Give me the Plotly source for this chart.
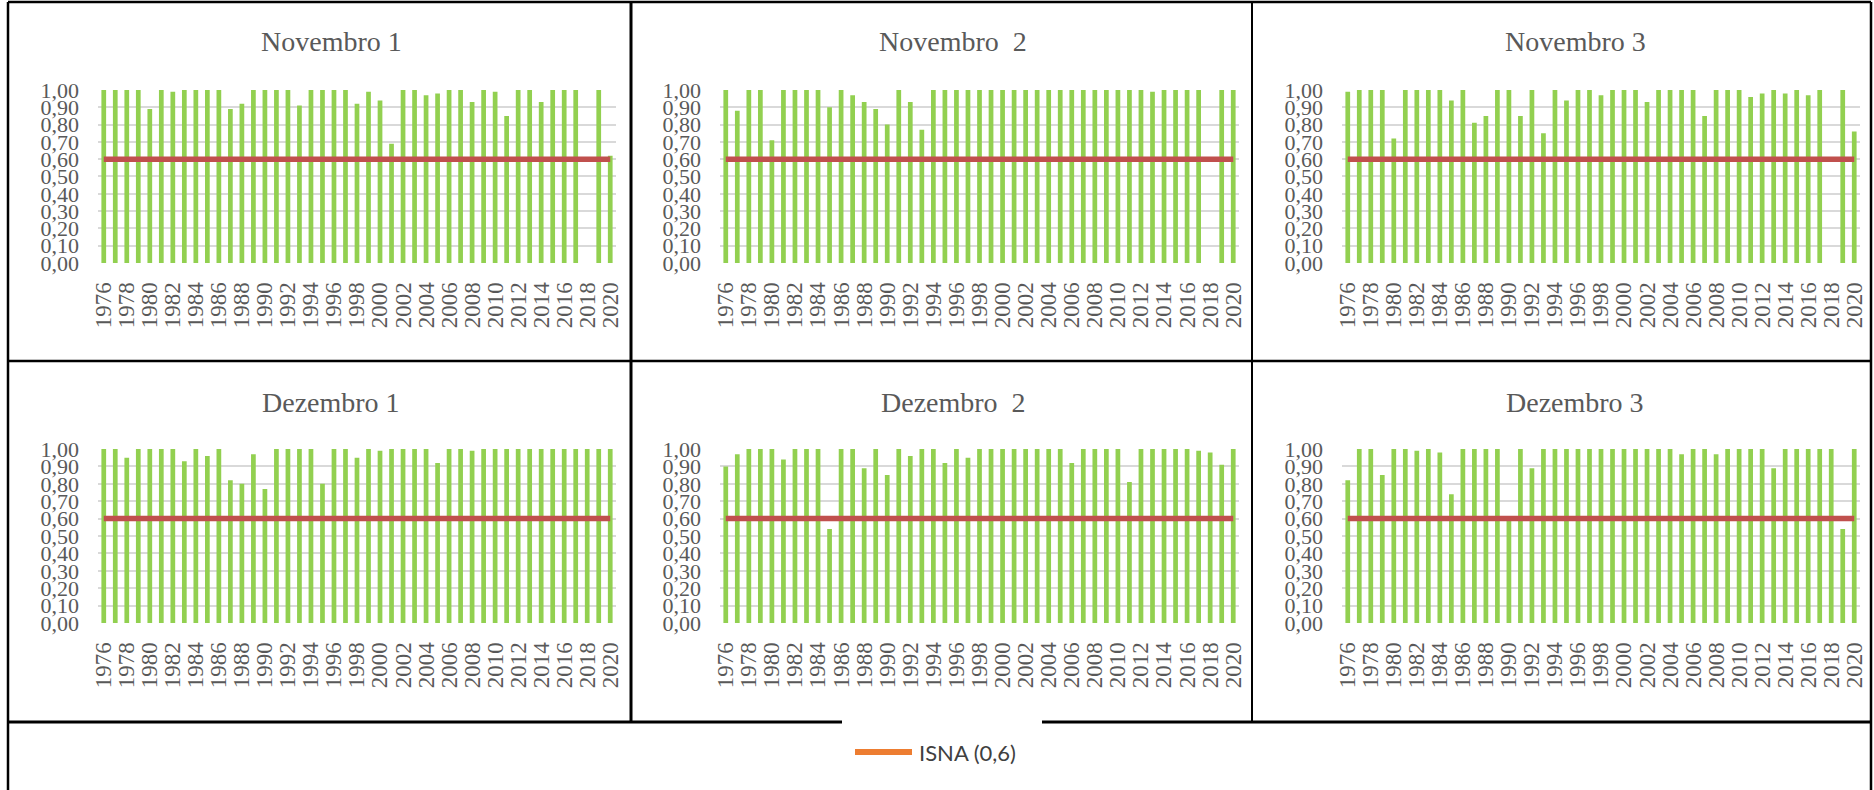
import plotly.graph_objects as go

W, H = 1874, 790

# ---- data -------------------------------------------------------------
years = list(range(1976, 2021))
year_ticks = years[::2]
year_tick_text = [str(y) for y in year_ticks]

y_ticks = [0.0, 0.1, 0.2, 0.3, 0.4, 0.5, 0.6, 0.7, 0.8, 0.9, 1.0]
y_tick_text = ["0,00", "0,10", "0,20", "0,30", "0,40", "0,50",
               "0,60", "0,70", "0,80", "0,90", "1,00"]

isna_limit = 0.6
isna_label = "ISNA (0,6)"

titles = ["Novembro 1", "Novembro \u00a02", "Novembro 3",
          "Dezembro 1", "Dezembro \u00a02", "Dezembro 3"]

nov_1 = [1.00, 1.00, 1.00, 1.00, 0.89, 1.00, 0.99, 1.00, 1.00, 1.00,
         1.00, 0.89, 0.92, 1.00, 1.00, 1.00, 1.00, 0.91, 1.00, 1.00,
         1.00, 1.00, 0.92, 0.99, 0.94, 0.69, 1.00, 1.00, 0.97, 0.98,
         1.00, 1.00, 0.93, 1.00, 0.99, 0.85, 1.00, 1.00, 0.93, 1.00,
         1.00, 1.00, None, 1.00, 0.62]
nov_2 = [1.00, 0.88, 1.00, 1.00, 0.71, 1.00, 1.00, 1.00, 1.00, 0.90,
         1.00, 0.97, 0.93, 0.89, 0.80, 1.00, 0.93, 0.77, 1.00, 1.00,
         1.00, 1.00, 1.00, 1.00, 1.00, 1.00, 1.00, 1.00, 1.00, 1.00,
         1.00, 1.00, 1.00, 1.00, 1.00, 1.00, 1.00, 0.99, 1.00, 1.00,
         1.00, 1.00, None, 1.00, 1.00]
nov_3 = [0.99, 1.00, 1.00, 1.00, 0.72, 1.00, 1.00, 1.00, 1.00, 0.94,
         1.00, 0.81, 0.85, 1.00, 1.00, 0.85, 1.00, 0.75, 1.00, 0.94,
         1.00, 1.00, 0.97, 1.00, 1.00, 1.00, 0.93, 1.00, 1.00, 1.00,
         1.00, 0.85, 1.00, 1.00, 1.00, 0.96, 0.98, 1.00, 0.98, 1.00,
         0.97, 1.00, None, 1.00, 0.76]
dez_1 = [1.00, 1.00, 0.95, 1.00, 1.00, 1.00, 1.00, 0.93, 1.00, 0.96,
         1.00, 0.82, 0.80, 0.97, 0.77, 1.00, 1.00, 1.00, 1.00, 0.80,
         1.00, 1.00, 0.95, 1.00, 0.99, 1.00, 1.00, 1.00, 1.00, 0.92,
         1.00, 1.00, 0.99, 1.00, 1.00, 1.00, 1.00, 1.00, 1.00, 1.00,
         1.00, 1.00, 1.00, 1.00, 1.00]
dez_2 = [0.90, 0.97, 1.00, 1.00, 1.00, 0.94, 1.00, 1.00, 1.00, 0.54,
         1.00, 1.00, 0.89, 1.00, 0.85, 1.00, 0.96, 1.00, 1.00, 0.92,
         1.00, 0.95, 1.00, 1.00, 1.00, 1.00, 1.00, 1.00, 1.00, 1.00,
         0.92, 1.00, 1.00, 1.00, 1.00, 0.81, 1.00, 1.00, 1.00, 1.00,
         1.00, 0.99, 0.98, 0.91, 1.00]
dez_3 = [0.82, 1.00, 1.00, 0.85, 1.00, 1.00, 0.99, 1.00, 0.98, 0.74,
         1.00, 1.00, 1.00, 1.00, 0.59, 1.00, 0.89, 1.00, 1.00, 1.00,
         1.00, 1.00, 1.00, 1.00, 1.00, 1.00, 1.00, 1.00, 1.00, 0.97,
         1.00, 1.00, 0.97, 1.00, 1.00, 1.00, 1.00, 0.89, 1.00, 1.00,
         1.00, 1.00, 1.00, 0.54, 1.00]

series = [nov_1, nov_2, nov_3, dez_1, dez_2, dez_3]

# ---- styling ------------------------------------------------------------
BAR_GREEN = "#92D050"
LINE_RED = "#C0504D"
LEGEND_ORANGE = "#ED7D31"
GRID = "#D9D9D9"
TEXT_GREY = "#595959"
SERIF = "Liberation Serif, Times New Roman, serif"

# plot-area pixel boxes (left, right) per column and (top=1.0, bottom=0.0) per row
col_px = [(98, 616), (720, 1239), (1342, 1860)]
row_px = [(90, 263), (449, 623)]
title_x = [331, 953, 1575]
title_y = [41, 402]

def fx(px):
    return px / W

def fy(px):
    return 1 - px / H

Y_LO, Y_HI = -0.004, 1.004

fig = go.Figure()
layout_axes = {}

for i, vals in enumerate(series):
    r, c = divmod(i, 3)
    n = i + 1
    xa = "x" if n == 1 else f"x{n}"
    ya = "y" if n == 1 else f"y{n}"

    fig.add_trace(go.Bar(
        x=years, y=vals, xaxis=xa, yaxis=ya,
        marker=dict(color=BAR_GREEN, line=dict(width=0)),
        width=0.41, showlegend=False, hoverinfo="x+y",
    ))
    fig.add_trace(go.Scatter(
        x=years, y=[isna_limit] * len(years), xaxis=xa, yaxis=ya,
        mode="lines", line=dict(color=LINE_RED, width=5.5),
        showlegend=False, name=isna_label,
    ))

    l, rr = col_px[c]
    top, bot = row_px[r]
    unit = (bot - top)  # px per 1.0
    dom_top = top - (Y_HI - 1.0) * unit
    dom_bot = bot + (0 - Y_LO) * unit

    xkey = "xaxis" if n == 1 else f"xaxis{n}"
    ykey = "yaxis" if n == 1 else f"yaxis{n}"
    layout_axes[xkey] = dict(
        domain=[fx(l), fx(rr)], anchor=ya, range=[1975.5, 2020.5],
        tickmode="array", tickvals=year_ticks, ticktext=year_tick_text,
        tickangle=-90, ticks="", showgrid=False, zeroline=False,
        showline=False, ticklabelstandoff=13, automargin=False,
        tickfont=dict(family=SERIF, size=23, color=TEXT_GREY),
        fixedrange=True,
    )
    layout_axes[ykey] = dict(
        domain=[fy(dom_bot), fy(dom_top)], anchor=xa, range=[Y_LO, Y_HI],
        tickmode="array", tickvals=y_ticks, ticktext=y_tick_text,
        showgrid=True, gridcolor=GRID, gridwidth=1.8, zeroline=False,
        showline=False, ticks="", ticklabelstandoff=18, automargin=False,
        tickfont=dict(family=SERIF, size=22, color=TEXT_GREY),
        fixedrange=True,
    )

annotations = []
for i, t in enumerate(titles):
    r, c = divmod(i, 3)
    annotations.append(dict(
        text=t, x=fx(title_x[c]), y=fy(title_y[r]), xref="paper", yref="paper",
        xanchor="center", yanchor="middle", showarrow=False,
        font=dict(family=SERIF, size=28, color=TEXT_GREY),
    ))

# legend entry
annotations.append(dict(
    text=isna_label, x=fx(917), y=fy(752), xref="paper", yref="paper",
    xanchor="left", yanchor="middle", showarrow=False,
    font=dict(family="Lato, Open Sans, sans-serif", size=22, color="#404040"),
))

shapes = []
def hline(y, x0, x1, w=2.5, color="black"):
    shapes.append(dict(type="line", xref="paper", yref="paper",
                       x0=fx(x0), x1=fx(x1), y0=fy(y), y1=fy(y),
                       line=dict(color=color, width=w), layer="above"))

def vline(x, y0, y1, w=2.5, color="black"):
    shapes.append(dict(type="line", xref="paper", yref="paper",
                       x0=fx(x), x1=fx(x), y0=fy(y0), y1=fy(y1),
                       line=dict(color=color, width=w), layer="above"))

# table frame
hline(2, 8, 1871)
hline(361, 8, 1871)
hline(722, 8, 1871, w=3)
vline(8, 2, 790)
vline(1871, 2, 790)
vline(631, 2, 722, w=3)
vline(1252, 2, 722, w=2)

# legend box knocks out the frame line
shapes.append(dict(type="rect", xref="paper", yref="paper",
                   x0=fx(842), x1=fx(1042), y0=fy(725), y1=fy(719),
                   fillcolor="white", line=dict(width=0), layer="above"))
# legend line sample
shapes.append(dict(type="line", xref="paper", yref="paper",
                   x0=fx(855), x1=fx(912), y0=fy(752), y1=fy(752),
                   line=dict(color=LEGEND_ORANGE, width=6), layer="above"))

fig.update_layout(
    width=W, height=H, margin=dict(l=0, r=0, t=0, b=0, pad=0, autoexpand=False),
    paper_bgcolor="white", plot_bgcolor="white",
    showlegend=False, annotations=annotations, shapes=shapes,
    bargap=0.59,
    **layout_axes,
)

fig.write_html(
    "out.html",
    config={"displayModeBar": False},
    post_script="document.body.style.margin='0';",
)
